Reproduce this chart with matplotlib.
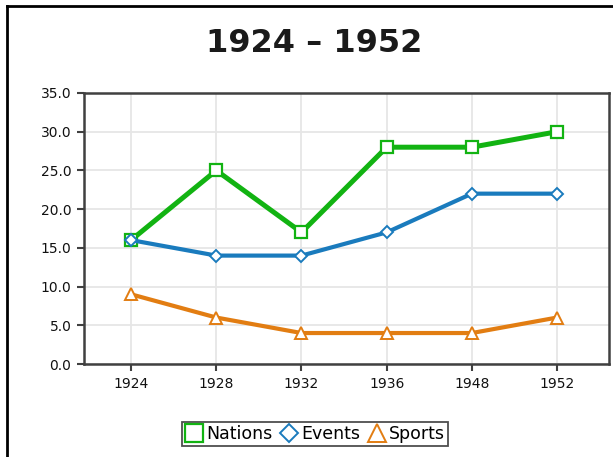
import numpy as np
import matplotlib
matplotlib.use("Agg")
from matplotlib import pyplot as plt
from matplotlib.lines import Line2D

### DATA ######################################################################

years = ["1924", "1928", "1932", "1936", "1948", "1952"]
nations = [16, 25, 17, 28, 28, 30]
events = [16, 14, 14, 17, 22, 22]
sports = [9, 6, 4, 4, 4, 6]

### STYLE #####################################################################

green = "#12b312"
blue = "#1a7bbd"
orange = "#e27d12"
dark = "#404040"

plt.rcParams['font.family'] = ['DejaVu Sans']

### FIGURE ####################################################################

fig = plt.figure(figsize=(6.13, 4.57), dpi=100)
ax = fig.add_axes([84/613, 1-364/457, (609-84)/613, (364-93)/457])

x = np.arange(len(years))
ax.plot(x, nations, color=green, lw=3.6, marker='s', ms=9, mfc='white',
        mec=green, mew=1.6, label='Nations', zorder=3)
ax.plot(x, events, color=blue, lw=3.0, marker='D', ms=6.5, mfc='white',
        mec=blue, mew=1.4, label='Events', zorder=4)
ax.plot(x, sports, color=orange, lw=3.0, marker='^', ms=9, mfc='white',
        mec=orange, mew=1.4, label='Sports', zorder=3)

ax.set_xlim(-0.553, 5.61)
ax.set_ylim(0, 35)
ax.set_xticks(x)
ax.set_xticklabels(years)
ax.set_yticks(np.arange(0, 36, 5))
ax.set_yticklabels(["%.1f" % v for v in np.arange(0, 36, 5)])
ax.tick_params(labelsize=10, colors='#111111', length=5, width=1.5,
               direction='out', pad=4)
ax.tick_params(axis='both', color=dark)
for s in ax.spines.values():
    s.set_color(dark)
    s.set_linewidth(1.8)
ax.grid(True, color='#e6e6e6', lw=1.3)
ax.set_axisbelow(True)

# title
fig.text(314/613, 1-43/457, "1924 \u2013 1952", ha='center', va='center',
         fontsize=23, fontweight='bold', color='#1a1a1a')

# legend below axes
leg = ax.legend(loc='center', bbox_to_anchor=(315/613, 1-434/457),
                bbox_transform=fig.transFigure, ncol=3, fontsize=12.5,
                frameon=True, fancybox=False, handlelength=1.1,
                handletextpad=0.15, columnspacing=0.4, borderpad=0.15,
                borderaxespad=0, markerscale=1.4)
for h in leg.legend_handles:
    h.set_linestyle('None')
leg.get_frame().set_edgecolor('#222222')
leg.get_frame().set_linewidth(1.3)

# outer border on left and top
fig.add_artist(Line2D([7/613, 7/613], [0, 1-6/457], color='black', lw=2,
                      transform=fig.transFigure))
fig.add_artist(Line2D([7/613, 1], [1-6/457, 1-6/457], color='black', lw=2,
                      transform=fig.transFigure))

fig.savefig("out.png", dpi=100)
